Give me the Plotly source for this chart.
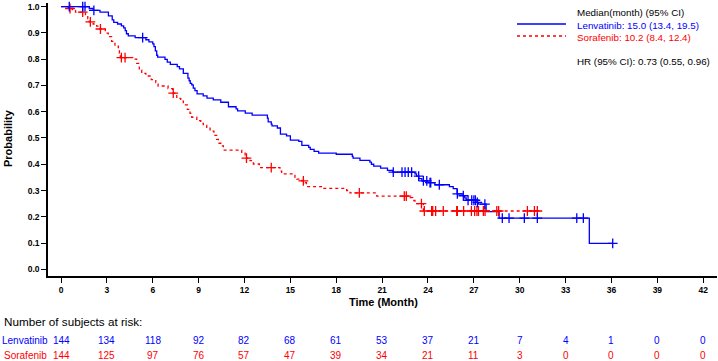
import numpy as np
import plotly.graph_objects as go

# ---------------- data ----------------
len_name = "Lenvatinib"
sor_name = "Sorafenib"

len_t = [0, 1.85, 2.1, 2.55, 3.1, 3.35, 3.45, 3.7, 3.95, 4.1, 4.2, 4.28, 4.4, 4.85, 5.55, 5.75, 6.0,
         6.08, 6.17, 6.26, 6.32, 6.8, 6.95, 7.15, 7.6, 7.75, 8.0, 8.3, 8.38, 8.45, 8.55, 8.65, 8.76,
         8.9, 9.3, 9.55, 9.96, 10.45, 10.95, 11.45, 11.55, 12.05, 12.5, 13.5, 13.55, 13.75, 13.8,
         14.15, 14.35, 14.75, 15.0, 15.55, 15.75, 16.2, 16.3, 16.55, 16.85, 18.0, 19.05, 19.1,
         19.55, 20.2, 20.3, 20.45, 20.9, 21.35, 21.7, 23.15, 23.25, 23.4, 23.6, 24.0, 24.45, 25.4,
         25.65, 25.9, 26.3, 26.4, 26.5, 27.2, 27.3, 27.8, 28.65, 34.55]
len_s = [1.0, 0.993, 0.986, 0.979, 0.965, 0.950, 0.940, 0.934, 0.927, 0.919, 0.909, 0.897, 0.889,
         0.882, 0.874, 0.866, 0.858, 0.848, 0.832, 0.815, 0.808, 0.799, 0.789, 0.780, 0.772, 0.763,
         0.746, 0.728, 0.718, 0.708, 0.702, 0.690, 0.680, 0.668, 0.660, 0.652, 0.645, 0.636, 0.619,
         0.611, 0.603, 0.595, 0.587, 0.576, 0.561, 0.553, 0.546, 0.538, 0.515, 0.508, 0.492, 0.487,
         0.472, 0.464, 0.457, 0.449, 0.442, 0.438, 0.430, 0.423, 0.415, 0.408, 0.400, 0.393, 0.385,
         0.377, 0.370, 0.363, 0.355, 0.345, 0.337, 0.330, 0.322, 0.315, 0.307, 0.287, 0.280, 0.272,
         0.263, 0.255, 0.248, 0.220, 0.195, 0.099]
len_end = 36.08
len_cens = [0.54, 1.42, 1.57, 2.15, 5.34, 21.73, 22.3, 22.5, 22.71, 22.93, 23.39, 23.7, 23.92,
            24.13, 24.18, 24.74, 25.92, 26.31, 26.62, 26.86, 27.0, 27.1, 27.23, 27.72, 28.86,
            29.3, 30.3, 31.15, 33.73, 34.16, 36.08]

sor_t = [0, 0.48, 0.75, 0.95, 1.6, 1.75, 1.85, 2.1, 2.33, 2.55, 2.9, 3.09, 3.31, 3.53, 3.75, 3.82,
         3.88, 4.69, 4.95, 5.12, 5.28, 5.55, 5.9, 6.2, 6.35, 7.0, 7.3, 7.57, 7.83, 8.0, 8.26, 8.44,
         8.55, 8.88, 9.14, 9.31, 9.53, 9.75, 10.0, 10.18, 10.29, 10.51, 10.62, 11.82, 12.04, 12.13,
         12.36, 12.58, 12.97, 14.32, 14.43, 15.3, 15.42, 15.75, 15.96, 16.05, 17.15, 18.68, 18.9,
         20.65, 22.83, 23.0, 23.15, 23.7]
sor_s = [1.0, 0.993, 0.986, 0.979, 0.966, 0.955, 0.942, 0.934, 0.926, 0.915, 0.899, 0.886, 0.868,
         0.850, 0.840, 0.823, 0.806, 0.800, 0.784, 0.759, 0.746, 0.736, 0.722, 0.711, 0.698, 0.688,
         0.671, 0.651, 0.640, 0.626, 0.609, 0.594, 0.579, 0.566, 0.556, 0.548, 0.537, 0.526, 0.510,
         0.495, 0.480, 0.470, 0.454, 0.442, 0.429, 0.423, 0.414, 0.401, 0.387, 0.374, 0.363, 0.350,
         0.343, 0.337, 0.330, 0.315, 0.308, 0.300, 0.291, 0.279, 0.273, 0.262, 0.250, 0.222]
sor_end = 31.15
sor_cens = [0.59, 1.42, 1.92, 2.58, 3.95, 4.19, 7.34, 12.13, 13.75, 15.85, 19.51, 22.45, 22.58,
            23.57, 23.76, 24.24, 24.31, 24.5, 25.0, 25.88, 25.92, 26.33, 26.84, 27.05, 27.2, 27.3,
            27.62, 27.73, 28.5, 28.62, 30.5, 30.96, 31.15]

risk_times = [0, 3, 6, 9, 12, 15, 18, 21, 24, 27, 30, 33, 36, 39, 42]
len_risk = [144, 134, 118, 92, 82, 68, 61, 53, 37, 21, 7, 4, 1, 0, 0]
sor_risk = [144, 125, 97, 76, 57, 47, 39, 34, 21, 11, 3, 0, 0, 0, 0]

y_ticks = [0.0, 0.1, 0.2, 0.3, 0.4, 0.5, 0.6, 0.7, 0.8, 0.9, 1.0]

legend_title = "Median(month) (95% CI)"
len_median = "Lenvatinib: 15.0 (13.4, 19.5)"
sor_median = "Sorafenib: 10.2 (8.4, 12.4)"
hr_text = "HR (95% CI): 0.73 (0.55, 0.96)"

# ---------------- styling ----------------
BLUE = "#0000FF"
RED = "#FF0000"
FONT = "Liberation Sans, Arial, sans-serif"
W, H = 718, 361
ML, MR, MT, MB = 48, 1, 3, 85
PW = W - ML - MR
PH = H - MT - MB


def px2paper_x(px):
    return (px - ML) / PW


def py2paper_y(py):
    return (H - MB - py) / PH


def step_xy(t, s, end):
    return list(t) + [end], list(s) + [s[-1]]


def surv_at(t, s, c):
    idx = np.searchsorted(np.array(t), np.array(c), side="right") - 1
    return np.array(s)[idx]


fig = go.Figure()

lx, ly = step_xy(len_t, len_s, len_end)
sx, sy = step_xy(sor_t, sor_s, sor_end)

fig.add_trace(go.Scatter(x=sx, y=sy, mode="lines", line=dict(color=RED, width=1.3, dash="3px,3px", shape="hv"),
                         name=sor_name, showlegend=False, hoverinfo="skip", cliponaxis=False))
fig.add_trace(go.Scatter(x=lx, y=ly, mode="lines", line=dict(color=BLUE, width=1.3, shape="hv"),
                         name=len_name, showlegend=False, hoverinfo="skip", cliponaxis=False))
fig.add_trace(go.Scatter(x=sor_cens, y=surv_at(sor_t, sor_s, sor_cens), mode="markers",
                         marker=dict(symbol="cross-thin", size=7, line=dict(color=RED, width=1.3)),
                         showlegend=False, hoverinfo="skip", cliponaxis=False))
fig.add_trace(go.Scatter(x=len_cens, y=surv_at(len_t, len_s, len_cens), mode="markers",
                         marker=dict(symbol="cross-thin", size=7, line=dict(color=BLUE, width=1.3)),
                         showlegend=False, hoverinfo="skip", cliponaxis=False))

ann = []
# axis titles
ann.append(dict(text="<b>Time (Month)</b>", x=px2paper_x(383), y=py2paper_y(302), xref="paper", yref="paper",
                showarrow=False, font=dict(size=11, color="black", family=FONT), xanchor="center", yanchor="middle"))
ann.append(dict(text="<b>Probability</b>", x=px2paper_x(8), y=py2paper_y(138), xref="paper", yref="paper",
                showarrow=False, textangle=-90, font=dict(size=11, color="black", family=FONT),
                xanchor="center", yanchor="middle"))
# legend block
for txt, py, col in [(legend_title, 13, "black"), (len_median, 25, BLUE), (sor_median, 37, RED), (hr_text, 61, "black")]:
    ann.append(dict(text=txt, x=px2paper_x(575), y=py2paper_y(py), xref="paper", yref="paper", showarrow=False,
                    font=dict(size=9.8, color=col, family=FONT), xanchor="left", yanchor="middle"))
# risk table
ann.append(dict(text="Number of subjects at risk:", x=px2paper_x(1.5), y=py2paper_y(321.5), xref="paper", yref="paper",
                showarrow=False, font=dict(size=11.7, color="black", family=FONT), xanchor="left", yanchor="middle"))
ann.append(dict(text=len_name, x=px2paper_x(0), y=py2paper_y(340), xref="paper", yref="paper", showarrow=False,
                font=dict(size=10, color=BLUE, family=FONT), xanchor="left", yanchor="middle"))
ann.append(dict(text=sor_name, x=px2paper_x(1.7), y=py2paper_y(355.5), xref="paper", yref="paper", showarrow=False,
                font=dict(size=10, color=RED, family=FONT), xanchor="left", yanchor="middle"))
for t, n in zip(risk_times, len_risk):
    ann.append(dict(text=str(n), x=t, y=py2paper_y(340), xref="x", yref="paper", showarrow=False,
                    font=dict(size=10, color=BLUE, family=FONT), xanchor="center", yanchor="middle"))
for t, n in zip(risk_times, sor_risk):
    ann.append(dict(text=str(n), x=t, y=py2paper_y(355.5), xref="x", yref="paper", showarrow=False,
                    font=dict(size=10, color=RED, family=FONT), xanchor="center", yanchor="middle"))

shapes = [
    dict(type="line", xref="paper", yref="paper", x0=px2paper_x(517), x1=px2paper_x(566),
         y0=py2paper_y(24), y1=py2paper_y(24), line=dict(color=BLUE, width=1.3)),
    dict(type="line", xref="paper", yref="paper", x0=px2paper_x(517), x1=px2paper_x(566),
         y0=py2paper_y(36), y1=py2paper_y(36), line=dict(color=RED, width=1.3, dash="3px,3px")),
]

fig.update_layout(
    width=W, height=H,
    margin=dict(l=ML, r=MR, t=MT, b=MB, autoexpand=False),
    paper_bgcolor="white", plot_bgcolor="white",
    font=dict(family=FONT, color="black"),
    annotations=ann, shapes=shapes,
    showlegend=False,
)
fig.update_xaxes(range=[-0.85, 42.9], tickvals=risk_times, showline=True, linecolor="black", linewidth=1.5,
                 ticks="outside", ticklen=5, tickwidth=1, tickcolor="black", showgrid=False, zeroline=False,
                 automargin=False,
                 tickfont=dict(size=8.5, family=FONT, color="black", weight="bold"))
fig.update_yaxes(range=[-0.0255, 1.014], tickvals=y_ticks, tickformat=".1f", showline=True, linecolor="black",
                 linewidth=1.5, ticks="outside", ticklen=5, tickwidth=1, tickcolor="black", showgrid=False,
                 zeroline=False, automargin=False,
                 tickfont=dict(size=8.5, family=FONT, color="black", weight="bold"))

fig.write_html("out.html", config={"displayModeBar": False},
               post_script="document.body.style.margin='0';document.body.style.overflow='hidden';")
